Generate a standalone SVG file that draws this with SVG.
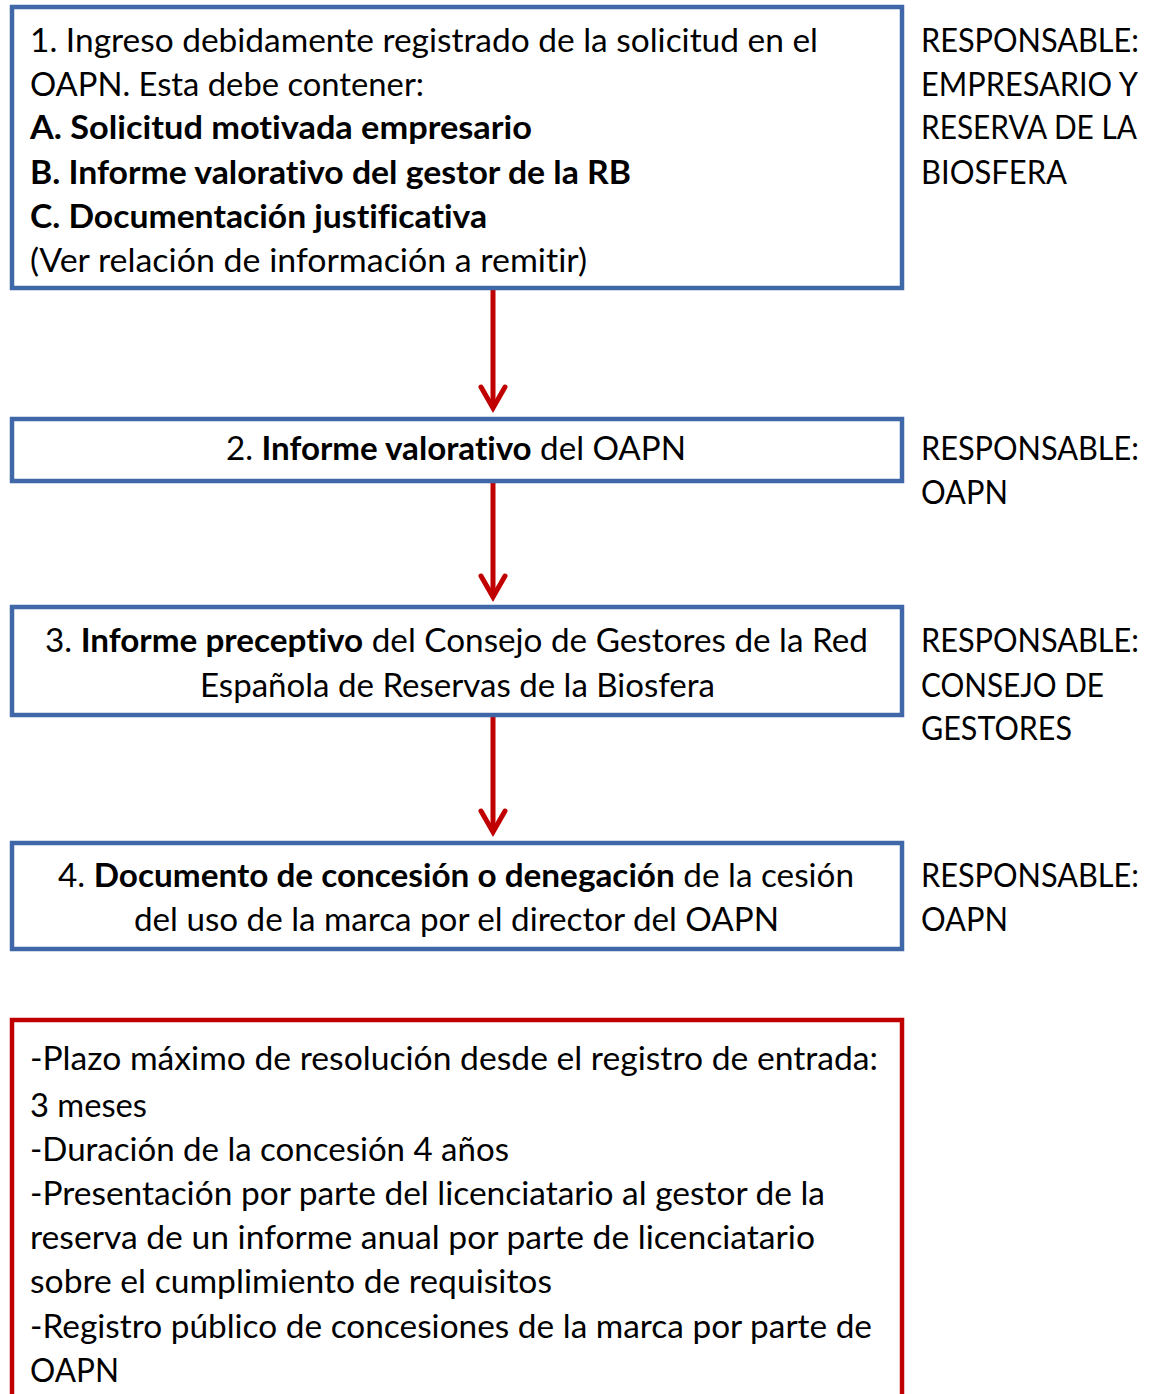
<svg xmlns="http://www.w3.org/2000/svg" width="1152" height="1394" viewBox="0 0 1152 1394">
<defs>
<style>
.box{fill:#ffffff;stroke:#4068a8;stroke-width:4.5}
.note{fill:#ffffff;stroke:#c00000;stroke-width:4.5}
.t{font-family:Lato,"Liberation Sans",sans-serif;font-size:33px;fill:#000000;font-variant-ligatures:none}
.b{font-weight:bold}
.conn{stroke:#c00000;stroke-width:5;fill:none}
.head{stroke:#c00000;stroke-width:5;fill:none;stroke-linecap:round;stroke-linejoin:miter}
</style>
</defs>
<rect x="0" y="0" width="1152" height="1394" fill="#ffffff"/>

<g id="connectors">
<line class="conn" x1="493" y1="290" x2="493" y2="408"/>
<polyline class="head" points="481,387 493,408 505,387"/>
<line class="conn" x1="493" y1="482" x2="493" y2="597"/>
<polyline class="head" points="481,576 493,597 505,576"/>
<line class="conn" x1="493" y1="716" x2="493" y2="832"/>
<polyline class="head" points="481,811 493,832 505,811"/>
</g>

<g id="node1">
<rect class="box" x="12" y="7" width="890" height="281"/>
<text class="t" x="30" y="52" textLength="788" lengthAdjust="spacingAndGlyphs">1. Ingreso debidamente registrado de la solicitud en el</text>
<text class="t" x="30" y="96" textLength="394" lengthAdjust="spacingAndGlyphs">OAPN. Esta debe contener:</text>
<text class="t b" x="30" y="139" textLength="502" lengthAdjust="spacingAndGlyphs">A. Solicitud motivada empresario</text>
<text class="t b" x="30" y="184" textLength="601" lengthAdjust="spacingAndGlyphs">B. Informe valorativo del gestor de la RB</text>
<text class="t b" x="30" y="228" textLength="457" lengthAdjust="spacingAndGlyphs">C. Documentación justificativa</text>
<text class="t" x="30" y="272" textLength="557" lengthAdjust="spacingAndGlyphs">(Ver relación de información a remitir)</text>
</g>
<g id="resp1">
<text class="t" x="921" y="52" textLength="218" lengthAdjust="spacingAndGlyphs">RESPONSABLE:</text>
<text class="t" x="921" y="96" textLength="217" lengthAdjust="spacingAndGlyphs">EMPRESARIO Y</text>
<text class="t" x="921" y="139" textLength="216" lengthAdjust="spacingAndGlyphs">RESERVA DE LA</text>
<text class="t" x="921" y="184" textLength="146" lengthAdjust="spacingAndGlyphs">BIOSFERA</text>
</g>

<g id="node2">
<rect class="box" x="12" y="419" width="890" height="62"/>
<text class="t" x="226" y="460" textLength="460" lengthAdjust="spacingAndGlyphs">2. <tspan class="b">Informe valorativo</tspan> del OAPN</text>
</g>
<g id="resp2">
<text class="t" x="921" y="460" textLength="218" lengthAdjust="spacingAndGlyphs">RESPONSABLE:</text>
<text class="t" x="921" y="504" textLength="87" lengthAdjust="spacingAndGlyphs">OAPN</text>
</g>

<g id="node3">
<rect class="box" x="12" y="607" width="890" height="108"/>
<text class="t" x="45" y="652" textLength="823" lengthAdjust="spacingAndGlyphs">3. <tspan class="b">Informe preceptivo</tspan> del Consejo de Gestores de la Red</text>
<text class="t" x="200" y="697" textLength="515" lengthAdjust="spacingAndGlyphs">Española de Reservas de la Biosfera</text>
</g>
<g id="resp3">
<text class="t" x="921" y="652" textLength="218" lengthAdjust="spacingAndGlyphs">RESPONSABLE:</text>
<text class="t" x="921" y="697" textLength="183" lengthAdjust="spacingAndGlyphs">CONSEJO DE</text>
<text class="t" x="921" y="740" textLength="151" lengthAdjust="spacingAndGlyphs">GESTORES</text>
</g>

<g id="node4">
<rect class="box" x="12" y="843" width="890" height="106"/>
<text class="t" x="58" y="887" textLength="796" lengthAdjust="spacingAndGlyphs">4. <tspan class="b">Documento de concesión o denegación</tspan> de la cesión</text>
<text class="t" x="134" y="931" textLength="645" lengthAdjust="spacingAndGlyphs">del uso de la marca por el director del OAPN</text>
</g>
<g id="resp4">
<text class="t" x="921" y="887" textLength="218" lengthAdjust="spacingAndGlyphs">RESPONSABLE:</text>
<text class="t" x="921" y="931" textLength="87" lengthAdjust="spacingAndGlyphs">OAPN</text>
</g>

<g id="notes">
<rect class="note" x="12" y="1020" width="890" height="420"/>
<text class="t" x="30" y="1070" textLength="848" lengthAdjust="spacingAndGlyphs">-Plazo máximo de resolución desde el registro de entrada:</text>
<text class="t" x="30" y="1117" textLength="117" lengthAdjust="spacingAndGlyphs">3 meses</text>
<text class="t" x="30" y="1161" textLength="479" lengthAdjust="spacingAndGlyphs">-Duración de la concesión 4 años</text>
<text class="t" x="30" y="1205" textLength="795" lengthAdjust="spacingAndGlyphs">-Presentación por parte del licenciatario al gestor de la</text>
<text class="t" x="30" y="1249" textLength="785" lengthAdjust="spacingAndGlyphs">reserva de un informe anual por parte de licenciatario</text>
<text class="t" x="30" y="1293" textLength="522" lengthAdjust="spacingAndGlyphs">sobre el cumplimiento de requisitos</text>
<text class="t" x="30" y="1338" textLength="842" lengthAdjust="spacingAndGlyphs">-Registro público de concesiones de la marca por parte de</text>
<text class="t" x="30" y="1382" textLength="89" lengthAdjust="spacingAndGlyphs">OAPN</text>
</g>
</svg>
